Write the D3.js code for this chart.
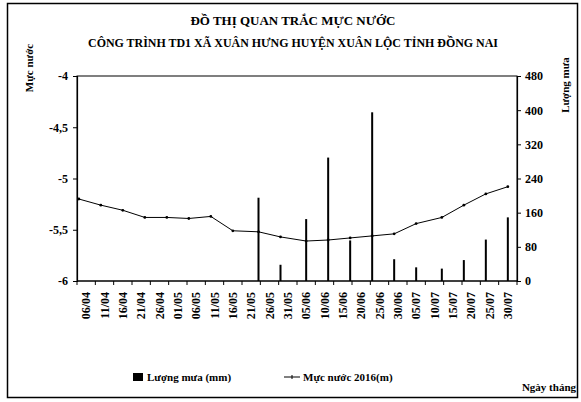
<!DOCTYPE html>
<html>
<head>
<meta charset="utf-8">
<script src="https://cdn.jsdelivr.net/npm/d3@7"></script>
<style>
  html, body { margin: 0; padding: 0; background: #fff; }
  svg text { font-family: "Liberation Serif", "Times New Roman", serif; font-weight: bold; fill: #000; }
</style>
</head>
<body>
<svg id="chart" width="581" height="402"></svg>
<script>
// ---- Data ----
const titleLines = ["ĐỒ THỊ QUAN TRẮC MỰC NƯỚC", "CÔNG TRÌNH TD1 XÃ XUÂN HƯNG HUYỆN XUÂN LỘC TỈNH ĐỒNG NAI"];
const xTickLabels = ["06/04","11/04","16/04","21/04","26/04","01/05","06/05","11/05","16/05","21/05","26/05","31/05",
                     "05/06","10/06","15/06","20/06","25/06","30/06","05/07","10/07","15/07","20/07","25/07","30/07"];
// measurement dates (dd/mm, 2016)
const dates = ["04/04","10/04","16/04","22/04","28/04","04/05","10/05","16/05","23/05","29/05",
               "05/06","11/06","17/06","23/06","29/06","05/07","12/07","18/07","24/07","30/07"];
const waterLevel = [-5.20,-5.26,-5.31,-5.38,-5.38,-5.39,-5.37,-5.51,-5.52,-5.57,
                    -5.61,-5.60,-5.58,-5.56,-5.54,-5.44,-5.38,-5.26,-5.15,-5.08];
const rainfall = [0,0,0,0,0,0,0,0,195,38,
                  145,289,95,395,51,32,29,49,97,149];
const leftTicks = [-4,-4.5,-5,-5.5,-6];
const rightTicks = [0,80,160,240,320,400,480];

// ---- Layout ----
const svg = d3.select("#chart");
const m = {left: 77, right: 517, top: 76, bottom: 281};

const parse = d3.timeParse("%d/%m/%Y");
const toDate = s => parse(s + "/2016");

const band = d3.scaleBand().domain(xTickLabels).range([m.left, m.right]);
const bw = band.bandwidth();
const d0 = toDate(xTickLabels[0]);
const dayMs = 86400000;
const x0 = band(xTickLabels[0]) + bw / 2;
const xDay = d3.scaleLinear().domain([0, 5]).range([x0, x0 + bw]);
const xd = s => xDay((toDate(s) - d0) / dayMs);

const yL = d3.scaleLinear().domain([-6, -4]).range([m.bottom, m.top]);
const yR = d3.scaleLinear().domain([0, 480]).range([m.bottom, m.top]);

// outer frame
svg.append("rect").attr("x", 7.5).attr("y", 3.5).attr("width", 570).attr("height", 394)
  .attr("fill", "none").attr("stroke", "#000").attr("stroke-width", 1.5);

// titles
const tl = [{t: titleLines[0], y: 25, w: 205}, {t: titleLines[1], y: 47, w: 410}];
tl.forEach(d => {
  svg.append("text").attr("x", 293).attr("y", d.y).attr("text-anchor", "middle")
    .attr("font-size", 13).attr("textLength", d.w).attr("lengthAdjust", "spacingAndGlyphs").text(d.t);
});

// plot box
svg.append("rect").attr("x", m.left).attr("y", m.top).attr("width", m.right - m.left).attr("height", m.bottom - m.top)
  .attr("fill", "none").attr("stroke", "#000").attr("stroke-width", 1);

// left axis
const fmtL = d => String(d).replace(".", ",");
const gL = svg.append("g").attr("transform", `translate(${m.left},0)`)
  .call(d3.axisLeft(yL).tickValues(leftTicks).tickSize(4).tickFormat(fmtL));
gL.selectAll("text").attr("font-size", 12).attr("dx", "-2");

// right axis
const gR = svg.append("g").attr("transform", `translate(${m.right},0)`)
  .call(d3.axisRight(yR).tickValues(rightTicks).tickSize(4));
gR.selectAll("text").attr("font-size", 12).attr("dx", "1");

[gL, gR].forEach(g => { g.select(".domain").attr("stroke", "#000").attr("stroke-width", 1.2); g.selectAll("line").attr("stroke", "#000"); });

// x axis: ticks between categories, labels rotated
const gX = svg.append("g").attr("transform", `translate(0,${m.bottom})`);
const bounds = xTickLabels.map(l => band(l)).concat([m.right]);
gX.selectAll("line.tk").data(bounds).join("line").attr("class", "tk")
  .attr("x1", d => d).attr("x2", d => d).attr("y1", 0).attr("y2", 4).attr("stroke", "#000");
gX.append("line").attr("x1", m.left).attr("x2", m.right).attr("y1", 0).attr("y2", 0).attr("stroke", "#000").attr("stroke-width", 1.2);
gX.selectAll("text").data(xTickLabels).join("text")
  .attr("transform", d => `translate(${band(d) + bw / 2 + 4},11) rotate(-90)`)
  .attr("text-anchor", "end").attr("font-size", 12).text(d => d);

// rainfall bars
svg.append("g").selectAll("rect").data(dates.map((d, i) => ({d, v: rainfall[i]})).filter(o => o.v > 0)).join("rect")
  .attr("x", o => xd(o.d) - 1).attr("width", 2)
  .attr("y", o => yR(o.v)).attr("height", o => yR(0) - yR(o.v)).attr("fill", "#000");

// water level line
const pts = dates.map((d, i) => [xd(d), yL(waterLevel[i])]);
svg.append("path").attr("d", d3.line()(pts)).attr("fill", "none").attr("stroke", "#000").attr("stroke-width", 1);
svg.append("g").selectAll("circle").data(pts).join("circle")
  .attr("cx", p => p[0]).attr("cy", p => p[1]).attr("r", 1.4).attr("fill", "#000");

// axis titles
svg.append("text").attr("transform", "translate(33,68) rotate(-90)").attr("text-anchor", "middle")
  .attr("font-size", 11).text("Mực nước");
svg.append("text").attr("transform", "translate(569,85) rotate(-90)").attr("text-anchor", "middle")
  .attr("font-size", 11).text("Lượng mưa");

// legend
svg.append("rect").attr("x", 133).attr("y", 373).attr("width", 10).attr("height", 8).attr("fill", "#000");
svg.append("text").attr("x", 147).attr("y", 381).attr("font-size", 11).text("Lượng mưa (mm)");
svg.append("line").attr("x1", 284).attr("x2", 300).attr("y1", 377).attr("y2", 377).attr("stroke", "#000");
svg.append("line").attr("x1", 292).attr("x2", 292).attr("y1", 375).attr("y2", 379).attr("stroke", "#000");
svg.append("text").attr("x", 303).attr("y", 381).attr("font-size", 11).text("Mực nước 2016(m)");
svg.append("text").attr("x", 576).attr("y", 391).attr("text-anchor", "end").attr("font-size", 11).text("Ngày tháng");
</script>
</body>
</html>
